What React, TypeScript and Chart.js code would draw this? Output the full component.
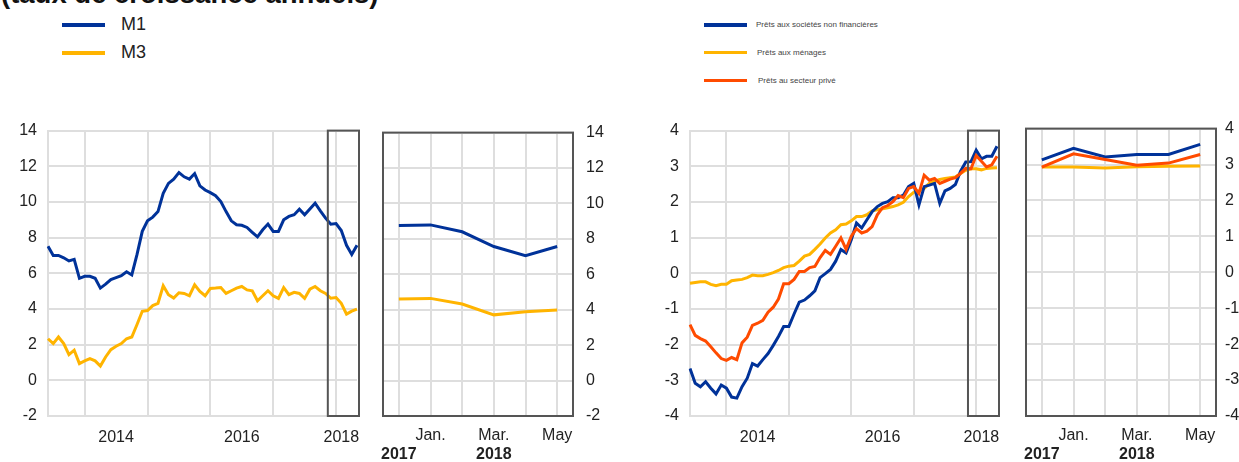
import React, { useEffect, useRef } from "react";
import { Chart, registerables } from "chart.js";
Chart.register(...registerables);

Chart.defaults.font.family = '"Liberation Sans", Arial, sans-serif';
Chart.defaults.color = "#222";

const months = [
  "2013-06", "2013-07", "2013-08", "2013-09", "2013-10", "2013-11", "2013-12",
  "2014-01", "2014-02", "2014-03", "2014-04", "2014-05", "2014-06", "2014-07", "2014-08", "2014-09", "2014-10", "2014-11", "2014-12",
  "2015-01", "2015-02", "2015-03", "2015-04", "2015-05", "2015-06", "2015-07", "2015-08", "2015-09", "2015-10", "2015-11", "2015-12",
  "2016-01", "2016-02", "2016-03", "2016-04", "2016-05", "2016-06", "2016-07", "2016-08", "2016-09", "2016-10", "2016-11", "2016-12",
  "2017-01", "2017-02", "2017-03", "2017-04", "2017-05", "2017-06", "2017-07", "2017-08", "2017-09", "2017-10", "2017-11", "2017-12",
  "2018-01", "2018-02", "2018-03", "2018-04", "2018-05",
];

const yearTickMonths = ["2014-07", "2016-07", "2018-02"];
const yearTickLabels = ["2014", "2016", "2018"];

const zoomMonths = ["2017-12", "2018-01", "2018-02", "2018-03", "2018-04", "2018-05"];
const zoomMonthLabels = ["", "Jan.", "", "Mar.", "", "May"];
const zoomYearLabels = ["2017", "", "", "2018", "", ""];

const m1 = [
  7.52, 7.0, 7.0, 6.87, 6.69, 6.78, 5.72, 5.83, 5.83, 5.72,
  5.17, 5.39, 5.65, 5.76, 5.87, 6.09, 5.91, 7.06, 8.35, 8.94,
  9.15, 9.46, 10.48, 11.04, 11.28, 11.65, 11.41, 11.28, 11.59, 10.9,
  10.67, 10.52, 10.35, 10.02, 9.46, 8.94, 8.72, 8.69, 8.57, 8.3,
  8.04, 8.44, 8.76, 8.35, 8.35, 9.0, 9.19, 9.28, 9.59, 9.28,
  9.61, 9.93, 9.5, 9.09, 8.75, 8.79, 8.4, 7.57, 7.05, 7.57,
];
const m3 = [
  2.33, 2.06, 2.43, 2.06, 1.44, 1.69, 0.94, 1.09, 1.22, 1.09,
  0.8, 1.31, 1.72, 1.91, 2.06, 2.33, 2.43, 3.13, 3.87, 3.91,
  4.19, 4.31, 5.3, 4.8, 4.61, 4.91, 4.87, 4.74, 5.35, 4.98,
  4.74, 5.15, 5.17, 5.2, 4.87, 5.02, 5.17, 5.26, 5.07, 5.02,
  4.46, 4.74, 5.02, 4.74, 4.59, 5.2, 4.8, 4.93, 4.87, 4.59,
  5.11, 5.26, 5.02, 4.87, 4.6, 4.64, 4.32, 3.71, 3.88, 3.99,
];
const loansNfc = [
  -2.67, -3.08, -3.18, -3.04, -3.22, -3.38, -3.13, -3.22, -3.47, -3.5,
  -3.18, -2.94, -2.53, -2.6, -2.42, -2.25, -2.02, -1.77, -1.49, -1.49,
  -1.14, -0.81, -0.75, -0.63, -0.49, -0.12, -0.01, 0.11, 0.34, 0.67,
  0.57, 0.94, 1.41, 1.27, 1.5, 1.73, 1.87, 1.96, 2.01, 2.12,
  2.12, 2.19, 2.43, 2.52, 1.92, 2.43, 2.47, 2.52, 1.96, 2.31,
  2.38, 2.49, 2.86, 3.12, 3.13, 3.45, 3.21, 3.28, 3.28, 3.56,
];
const loansHouseholds = [
  -0.28, -0.26, -0.24, -0.24, -0.31, -0.35, -0.31, -0.31, -0.21, -0.19,
  -0.17, -0.12, -0.05, -0.07, -0.07, -0.03, 0.02, 0.08, 0.16, 0.2,
  0.22, 0.34, 0.48, 0.53, 0.67, 0.82, 0.99, 1.13, 1.22, 1.36,
  1.38, 1.47, 1.59, 1.59, 1.64, 1.75, 1.78, 1.81, 1.84, 1.87,
  1.92, 1.99, 2.15, 2.27, 2.31, 2.38, 2.52, 2.58, 2.63, 2.66,
  2.68, 2.7, 2.8, 2.89, 2.93, 2.93, 2.9, 2.94, 2.95, 2.96,
];
const loansPrivate = [
  -1.44, -1.74, -1.83, -1.9, -2.06, -2.23, -2.39, -2.44, -2.36, -2.42,
  -1.95, -1.79, -1.46, -1.4, -1.32, -1.09, -0.95, -0.72, -0.29, -0.29,
  -0.17, 0.05, 0.05, 0.16, 0.19, 0.44, 0.64, 0.53, 0.76, 0.99,
  0.67, 1.04, 1.25, 1.13, 1.18, 1.31, 1.64, 1.84, 1.9, 2.01,
  2.18, 2.12, 2.38, 2.43, 2.24, 2.75, 2.61, 2.66, 2.52, 2.58,
  2.64, 2.68, 2.8, 2.94, 2.93, 3.3, 3.14, 2.98, 3.04, 3.28,
];

const BLUE = "#003299";
const YELLOW = "#FFB400";
const ORANGE = "#FF4B00";
const GRID = "#dedede";
const FRAME = "#555555";

type Series = { label: string; data: number[]; color: string; order: number };

const leftSeries: Series[] = [
  { label: "M1", data: m1, color: BLUE, order: 1 },
  { label: "M3", data: m3, color: YELLOW, order: 2 },
];
const rightSeries: Series[] = [
  { label: "Prêts aux sociétés non financières", data: loansNfc, color: BLUE, order: 2 },
  { label: "Prêts aux ménages", data: loansHouseholds, color: YELLOW, order: 3 },
  { label: "Prêts au secteur privé", data: loansPrivate, color: ORANGE, order: 1 },
];

const boxPlugin = {
  id: "zoomBox",
  afterDatasetsDraw(chart: any, _args: any, opts: any) {
    if (!opts || !opts.from) return;
    const x = chart.scales.x;
    const { top, bottom } = chart.chartArea;
    const x0 = x.getPixelForValue(months.indexOf(opts.from)) - opts.padL;
    const x1 = x.getPixelForValue(months.indexOf(opts.to)) + opts.padR;
    const ctx = chart.ctx;
    ctx.save();
    ctx.strokeStyle = FRAME;
    ctx.lineWidth = 2;
    ctx.strokeRect(x0, top, x1 - x0, bottom - top);
    ctx.restore();
  },
};

const framePlugin = {
  id: "frame",
  afterDraw(chart: any, _args: any, opts: any) {
    if (!opts || !opts.on) return;
    const { left, top, right, bottom } = chart.chartArea;
    const ctx = chart.ctx;
    ctx.save();
    ctx.strokeStyle = FRAME;
    ctx.lineWidth = 2;
    ctx.strokeRect(left, top, right - left, bottom - top);
    ctx.restore();
  },
};

function mainConfig(series: Series[], yMin: number, yMax: number, step: number, yWidth: number, padRight: number): any {
  return {
    type: "line",
    data: {
      labels: months,
      datasets: series.map((s) => ({
        label: s.label,
        data: s.data,
        borderColor: s.color,
        backgroundColor: s.color,
        borderWidth: 3,
        pointRadius: 0,
        tension: 0,
        fill: false,
        order: s.order,
      })),
    },
    options: {
      responsive: false,
      animation: false,
      layout: { padding: { top: 18, right: padRight, left: 0, bottom: 0 } },
      plugins: {
        legend: { display: false },
        tooltip: { enabled: false },
        zoomBox: { from: zoomMonths[0], to: zoomMonths[zoomMonths.length - 1], padL: 3, padR: 2 },
      },
      scales: {
        x: {
          type: "category",
          offset: false,
          grid: {
            color: (c: any) => (months[c.index] && months[c.index].endsWith("-01") ? GRID : "rgba(0,0,0,0)"),
            lineWidth: 2,
            drawTicks: false,
          },
          border: { display: true, color: GRID, width: 2 },
          ticks: {
            autoSkip: false,
            maxRotation: 0,
            minRotation: 0,
            padding: 12,
            font: { size: 16 },
            color: "#222",
            callback: (_v: any, i: number) => {
              const k = yearTickMonths.indexOf(months[i]);
              return k >= 0 ? yearTickLabels[k] : "";
            },
          },
          afterFit: (s: any) => {
            s.height = 46;
          },
        },
        y: {
          min: yMin,
          max: yMax,
          grid: { color: GRID, lineWidth: 2, drawTicks: false },
          border: { display: true, color: GRID, width: 2 },
          ticks: { stepSize: step, padding: 11, font: { size: 16 }, color: "#222" },
          afterFit: (s: any) => {
            s.width = yWidth;
          },
        },
      },
    },
    plugins: [boxPlugin],
  };
}

function zoomConfig(series: Series[], yMin: number, yMax: number, step: number, padLeft: number, yWidth: number, tickPad: number): any {
  const n = zoomMonths.length;
  return {
    type: "line",
    data: {
      labels: zoomMonths,
      datasets: series.map((s) => ({
        label: s.label,
        data: s.data.slice(s.data.length - n),
        borderColor: s.color,
        backgroundColor: s.color,
        borderWidth: 3,
        pointRadius: 0,
        tension: 0,
        fill: false,
        order: s.order,
      })),
    },
    options: {
      responsive: false,
      animation: false,
      layout: { padding: { top: 18, right: 0, left: padLeft, bottom: 0 } },
      plugins: {
        legend: { display: false },
        tooltip: { enabled: false },
        frame: { on: true },
      },
      scales: {
        x: {
          type: "category",
          position: "bottom",
          weight: 0,
          offset: true,
          grid: { color: GRID, lineWidth: 2, drawTicks: false, offset: false },
          border: { display: false },
          ticks: {
            autoSkip: false,
            maxRotation: 0,
            minRotation: 0,
            padding: 10,
            font: { size: 16 },
            color: "#222",
            callback: (_v: any, i: number) => zoomMonthLabels[i],
          },
          afterFit: (s: any) => {
            s.height = 29;
          },
        },
        x2: {
          type: "category",
          position: "bottom",
          weight: 1,
          offset: true,
          grid: { display: false, drawTicks: false },
          border: { display: false },
          ticks: {
            autoSkip: false,
            maxRotation: 0,
            minRotation: 0,
            padding: 0,
            font: { size: 16, weight: "bold" },
            color: "#222",
            callback: (_v: any, i: number) => zoomYearLabels[i],
          },
          afterFit: (s: any) => {
            s.height = 17;
          },
        },
        y: {
          position: "right",
          min: yMin,
          max: yMax,
          grid: { color: GRID, lineWidth: 2, drawTicks: false },
          border: { display: false },
          ticks: { stepSize: step, padding: tickPad, font: { size: 16 }, color: "#222" },
          afterFit: (s: any) => {
            s.width = yWidth;
          },
        },
      },
    },
    plugins: [framePlugin],
  };
}

function ChartBox(props: { left: number; top: number; width: number; height: number; config: () => any }) {
  const ref = useRef<HTMLCanvasElement | null>(null);
  useEffect(() => {
    if (!ref.current) return;
    const chart = new Chart(ref.current, props.config());
    return () => chart.destroy();
  }, []);
  return (
    <canvas
      ref={ref}
      width={props.width}
      height={props.height}
      style={{ position: "absolute", left: props.left, top: props.top, width: props.width, height: props.height }}
    />
  );
}

function LegendItem(props: { x: number; y: number; color: string; text: string; textX: number; size: number; thick: number; lineW: number; textColor: string }) {
  return (
    <>
      <div
        style={{
          position: "absolute",
          left: props.x,
          top: props.y - props.thick / 2,
          width: props.lineW,
          height: props.thick,
          background: props.color,
        }}
      />
      <div
        style={{
          position: "absolute",
          left: props.textX,
          top: props.y - props.size * 0.6,
          fontSize: props.size,
          lineHeight: `${props.size * 1.2}px`,
          color: props.textColor,
          whiteSpace: "nowrap",
        }}
      >
        {props.text}
      </div>
    </>
  );
}

export default function App() {
  const rightLegendY = [25, 52.5, 80.5];
  const rightLegendTextX = [756, 757, 758];
  return (
    <div
      style={{
        position: "absolute",
        left: 0,
        top: 0,
        width: 1239,
        height: 462,
        overflow: "hidden",
        background: "#fff",
        fontFamily: '"Liberation Sans", Arial, sans-serif',
      }}
    >
      <div
        style={{
          position: "absolute",
          left: 1,
          top: -21,
          fontSize: 27.5,
          fontWeight: "bold",
          lineHeight: "30px",
          color: "#111",
          whiteSpace: "nowrap",
        }}
      >
        (taux de croissance annuels)
      </div>
      {leftSeries.map((s, i) => (
        <LegendItem
          key={s.label}
          x={62}
          y={i === 0 ? 24.5 : 52.5}
          color={s.color}
          text={s.label}
          textX={121}
          size={18}
          thick={4}
          lineW={43}
          textColor="#222"
        />
      ))}
      {rightSeries.map((s, i) => (
        <LegendItem
          key={s.label}
          x={704}
          y={rightLegendY[i]}
          color={s.color}
          text={s.label}
          textX={rightLegendTextX[i]}
          size={8}
          thick={3.5}
          lineW={43}
          textColor="#444"
        />
      ))}
      <ChartBox left={0} top={110} width={372} height={352} config={() => mainConfig(leftSeries, -2, 14, 2, 48, 15)} />
      <ChartBox left={372} top={110} width={258} height={352} config={() => zoomConfig(leftSeries, -2, 14, 2, 11, 57, 13)} />
      <ChartBox left={640} top={110} width={370} height={352} config={() => mainConfig(rightSeries, -4, 4, 1, 50, 13)} />
      <ChartBox left={1010} top={110} width={229} height={352} config={() => zoomConfig(rightSeries, -4, 4, 1, 16, 23, 9)} />
    </div>
  );
}
